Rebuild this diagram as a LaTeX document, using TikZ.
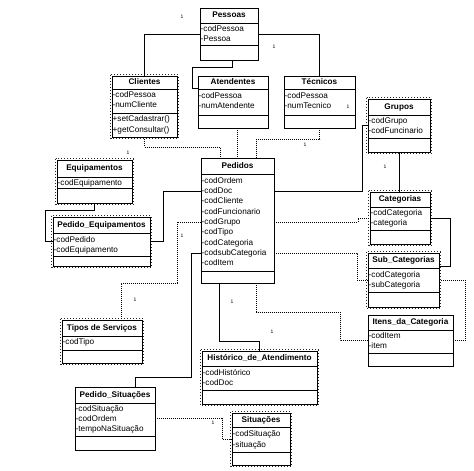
\documentclass[tikz,border=0pt]{standalone}
\usepackage{fontspec}
\setmainfont{Liberation Sans}
\tikzset{
 cbox/.style={draw=black, line width=0.8pt, fill=white, inner sep=0pt, outer sep=0pt},
 sel/.style={draw=black!85, line width=1pt, dotted},
 divider/.style={line width=0.8pt},
 ttl/.style={font=\bfseries\fontsize{8.2}{9}\selectfont, inner sep=0pt, text height=6pt, text depth=1.5pt},
 attr/.style={font=\fontsize{8.2}{9}\selectfont, inner sep=0pt, anchor=west, text height=6pt, text depth=1.5pt},
 link/.style={line width=0.8pt},
 dlink/.style={line width=1pt, densely dotted},
 mult/.style={font=\fontsize{5}{5}\selectfont, inner sep=0pt},
}
\newcommand\mkclass[8]{%
  \node[cbox, anchor=north west, minimum width={(#4-#2)*1pt}, minimum height={(#7-#3)*1pt}] (#1) at (#2,#3) {};
  \draw[divider] (#2,#5) -- (#4,#5) (#2,#6) -- (#4,#6);
  \node[ttl] (#1-t) at ({(#2+#4)/2},{(#3+#5)/2}) {#8};
}
\newcommand\selbox[1]{%
  \draw[sel] ([shift={(-1.3pt,1.3pt)}]#1.north west) rectangle ([shift={(1.3pt,-1.3pt)}]#1.south east);
}
\begin{document}
\begin{tikzpicture}[x=1pt,y=-1pt]
\path[use as bounding box, fill=white] (0,0) rectangle (474,471);

% classes
\mkclass{pessoas}{200}{8}{258}{23}{45}{60}{Pessoas}
\node[attr] (pes-a1) at (200.5,29.5) {-codPessoa};
\node[attr] (pes-a2) at (200.5,39.5) {-Pessoa};

\mkclass{clientes}{112}{76}{177}{89}{113}{137}{Clientes}
\node[attr] (cli-a1) at (112.5,95.5) {-codPessoa};
\node[attr] (cli-a2) at (112.5,105.5) {-numCliente};
\node[attr] (cli-m1) at (112.5,119.5) {+setCadastrar()};
\node[attr] (cli-m2) at (112.5,130.5) {+getConsultar()};

\mkclass{atendentes}{198}{76}{268}{89}{115}{128}{Atendentes}
\node[attr] (ate-a1) at (198.5,96) {-codPessoa};
\node[attr] (ate-a2) at (198.5,106) {-numAtendente};

\mkclass{tecnicos}{284}{76}{355}{89}{115}{128}{Técnicos}
\node[attr] (tec-a1) at (284.5,96) {-codPessoa};
\node[attr] (tec-a2) at (284.5,106) {-numTecnico};

\mkclass{grupos}{368}{99}{430}{115}{138}{152}{Grupos}
\node[attr] (gru-a1) at (368.5,121.5) {-codGrupo};
\node[attr] (gru-a2) at (368.5,131.5) {-codFuncinario};

\mkclass{equipamentos}{57}{160}{132}{177}{188}{203}{Equipamentos}
\node[attr] (equ-a1) at (57.5,183) {-codEquipamento};

\mkclass{pedequip}{53}{217}{150}{233}{256}{266}{Pedido\_Equipamentos}
\node[attr] (peq-a1) at (53.5,240) {-codPedido};
\node[attr] (peq-a2) at (53.5,250) {-codEquipamento};

\mkclass{pedidos}{201}{158}{274}{174}{271}{283}{Pedidos}
\node[attr] (ped-ord) at (201.5,181) {-codOrdem};
\node[attr] (ped-doc) at (201.5,191.5) {-codDoc};
\node[attr] (ped-cli) at (201.5,201.5) {-codCliente};
\node[attr] (ped-fun) at (201.5,212) {-codFuncionario};
\node[attr] (ped-grp) at (201.5,222) {-codGrupo};
\node[attr] (ped-tip) at (201.5,232.5) {-codTipo};
\node[attr] (ped-cat) at (201.5,243) {-codCategoria};
\node[attr] (ped-sub) at (201.5,253) {-codsubCategoria};
\node[attr] (ped-ite) at (201.5,263.5) {-codItem};

\mkclass{categorias}{370}{192}{430}{207}{230}{244}{Categorias}
\node[attr] (cat-a1) at (370.5,213.5) {-codCategoria};
\node[attr] (cat-a2) at (370.5,223.5) {-categoria};

\mkclass{subcat}{368}{253}{439}{268}{292}{307}{Sub\_Categorias}
\node[attr] (sub-a1) at (368.5,275) {-codCategoria};
\node[attr] (sub-a2) at (368.5,285) {-subCategoria};

\mkclass{itens}{368}{315}{453}{330}{353}{366}{Itens\_da\_Categoria}
\node[attr] (ite-a1) at (368.5,336.5) {-codItem};
\node[attr] (ite-a2) at (368.5,346.5) {-item};

\mkclass{tipos}{62}{320}{142}{336}{350}{363}{Tipos de Serviços}
\node[attr] (tip-a1) at (62.5,342.5) {-codTipo};

\mkclass{historico}{202}{351}{317}{366}{390}{404}{Histórico\_de\_Atendimento}
\node[attr] (his-a1) at (202.5,373) {-codHistórico};
\node[attr] (his-a2) at (202.5,383) {-codDoc};

\mkclass{pedsit}{75}{387}{155}{403}{436}{450}{Pedido\_Situações}
\node[attr] (psi-a1) at (75.5,409) {-codSituação};
\node[attr] (psi-a2) at (75.5,419) {-codOrdem};
\node[attr] (psi-a3) at (75.5,429) {-tempoNaSituação};

\mkclass{situacoes}{232}{413}{290}{427}{452}{465}{Situações}
\node[attr] (sit-a1) at (232.5,434) {-codSituação};
\node[attr] (sit-a2) at (232.5,445) {-situação};

% selection outlines
\selbox{clientes}
\selbox{equipamentos}
\selbox{pedequip}
\selbox{grupos}
\selbox{categorias}
\selbox{subcat}
\selbox{tipos}
\selbox{historico}
\selbox{situacoes}

% connectors
\draw[link] (pessoas.west) -| (clientes.north);
\draw[link] (pessoas.east) -| (tecnicos.north);
\draw[link] ([xshift=3pt]pessoas.south) -- ++(0,7) -| ([xshift=-6pt,yshift=14pt]atendentes.west) -- ([yshift=14pt]atendentes.west);
\draw[dlink] (clientes.south) |- ([xshift=19pt,yshift=11pt]pedidos.north west) -- ([xshift=19pt]pedidos.north west);
\draw[dlink] (atendentes.south -| pedidos.north) -- (pedidos.north);
\draw[dlink] (tecnicos.south) |- ([xshift=55pt,yshift=19pt]pedidos.north west) -- ([xshift=55pt]pedidos.north west);
\draw[link] (pedidos.east |- ped-doc) -| ([xshift=-6pt]grupos.west) -- (grupos.west);
\draw[link] (grupos.south) -- (grupos.south |- categorias.north);
\draw[dlink] (pedidos.east |- ped-grp) -| ([xshift=-12pt]categorias.west) -- (categorias.west);
\draw[link] (categorias.east) -| ([xshift=11pt,yshift=14pt]subcat.east) -- ([yshift=14pt]subcat.east);
\draw[dlink] (pedidos.east |- ped-sub) -| ([xshift=-11pt]subcat.west) -- (subcat.west);
\draw[dlink] (subcat.east) -| ([xshift=12pt]itens.east) -- (itens.east);
\draw[link] (pedidos.west |- ped-doc) -| ([xshift=13pt]pedequip.east) -- (pedequip.east);
\draw[link] (equipamentos.south) -- ++(0,7) -| ([xshift=-8pt]pedequip.west) -- (pedequip.west);
\draw[dlink] (pedidos.west |- ped-grp) -| ([xshift=-24pt]pedidos.south west) -| ([xshift=19pt]tipos.north);
\draw[link] (pedidos.west |- ped-sub) -- ++(-10,0) |- ([xshift=20pt,yshift=10pt]pedsit.north) -- ([xshift=20pt]pedsit.north);
\draw[link] ([xshift=-18pt]pedidos.south) -- ++(0,58) -| (historico.north);
\draw[dlink] ([xshift=19pt]pedidos.south) -- ++(0,29) -| ([xshift=-28pt]itens.west) -- (itens.west);
\draw[dlink] (pedsit.east) -| ([xshift=-10pt]situacoes.west) -- (situacoes.west);

% multiplicities
\node[mult] (m1) at (182,17) {1};
\node[mult] (m2) at (274,47) {1};
\node[mult] (m3) at (348,107) {1};
\node[mult] (m4) at (305,145) {1};
\node[mult] (m5) at (128,153) {1};
\node[mult] (m6) at (385,167) {1};
\node[mult] (m7) at (182,236) {1};
\node[mult] (m8) at (135,300) {1};
\node[mult] (m9) at (232,302) {1};
\node[mult] (m10) at (272,332) {1};
\node[mult] (m11) at (213,423) {1};
\end{tikzpicture}
\end{document}
